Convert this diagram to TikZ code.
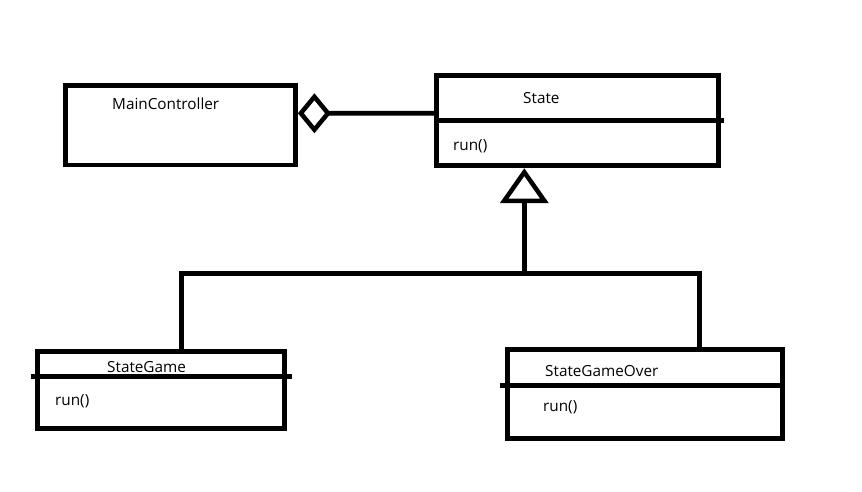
\documentclass[tikz,border=0pt]{standalone}
\usepackage{fontspec}
\setmainfont{Open Sans}
\usetikzlibrary{arrows.meta}
\tikzset{
  box/.style={draw=black, line width=4.8pt, rectangle, inner sep=0pt},
  lbl/.style={anchor=base west, inner sep=0pt, font=\fontsize{15.3}{18}\selectfont},
  thick line/.style={line width=4.8pt, draw=black},
  agg/.style={thick line, -{Diamond[open, length=33pt, width=40pt, line width=4.5pt]}},
  inh/.style={thick line, -{Triangle[open, length=35pt, width=48pt, line width=4.5pt]}},
}
\begin{document}
\begin{tikzpicture}[x=1pt, y=-1pt]
\useasboundingbox (0,0) rectangle (862,491);
\fill[white] (0,0) rectangle (862,491);

% boxes
\node[box, minimum width=230pt, minimum height=79.5pt] (mc) at (180.5,125.25) {};
\node[box, minimum width=281.6pt, minimum height=90pt] (state) at (577.5,120.8) {};
\node[box, minimum width=246.9pt, minimum height=77pt] (sg) at (161.25,390) {};
\node[box, minimum width=274.4pt, minimum height=89.3pt] (sgo) at (645,393.85) {};

% dividers
\draw[thick line] (state.west) -- ([xshift=3.5pt]state.east);
\draw[thick line] ([xshift=-4.5pt,yshift=-27.2pt]sg.north west) -- ([xshift=4.5pt,yshift=-27.2pt]sg.north east);
\draw[thick line] ([xshift=-5pt,yshift=-38.8pt]sgo.north west) -- ([yshift=-38.8pt]sgo.north east);

% texts
\node[lbl] (tmc) at (112,109) {MainController};
\node[lbl] (tstate) at (523,103) {State};
\node[lbl] (tsrun) at (453,150) {run()};
\node[lbl] (tsg) at (107,372) {StateGame};
\node[lbl] (tsgrun) at (55,405) {run()};
\node[lbl] (tsgo) at (545,376) {StateGameOver};
\node[lbl] (tsgorun) at (543,411) {run()};

% aggregation
\draw[agg] ([yshift=7.5pt]state.west) -- ([yshift=12pt]mc.east);

% inheritance
\coordinate (j) at (524.3,273.5);
\draw[inh] (j) -- (j |- state.south);
\draw[thick line] ([xshift=20.45pt]sg.north) |- (j) -| ([xshift=54.3pt]sgo.north);
\end{tikzpicture}
\end{document}
